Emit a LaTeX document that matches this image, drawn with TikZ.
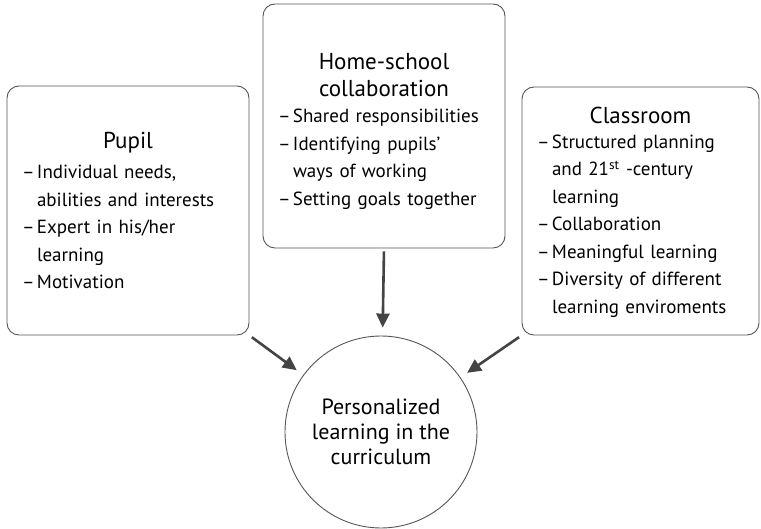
\documentclass[tikz,border=0pt]{standalone}
\usepackage{fontspec}
\setmainfont{PT Sans}
\usetikzlibrary{arrows.meta}

\definecolor{boxline}{HTML}{555555}
\definecolor{arrowgray}{HTML}{444444}
\newcommand{\li}[1]{\par\hangindent=15pt\hangafter=1\noindent\makebox[15pt][l]{–}#1\par}
\newcommand{\btitle}[2][3pt]{{\centering\fontsize{23}{27}\selectfont #2\par}\vspace{#1}}

\begin{document}
\begin{tikzpicture}[x=1pt,y=-1pt, block/.style={rectangle,draw=boxline,line width=0.9pt,rounded corners=12pt,inner xsep=15pt,inner ysep=0pt,text width=212pt,align=left,font=\fontsize{19}{27.5}\selectfont}, goal/.style={circle,draw=boxline,line width=0.9pt,minimum size=192pt,inner sep=0pt,align=center,font=\fontsize{22}{25}\selectfont}, arrow/.style={-{Triangle[length=14pt,width=13pt]},arrowgray,line width=2.6pt,shorten >=8pt,shorten <=3pt}]
\useasboundingbox (0,0) rectangle (761,529);
\node (b1) [block,minimum height=249pt,minimum width=242pt] at (128,210.5) {\btitle{Pupil}\li{Individual needs,\newline abilities and interests}\li{Expert in his/her\newline learning}\li{Motivation}};
\node (b2) [block,minimum height=244pt,minimum width=242pt] at (384,126) {\btitle[-1pt]{\rule{0pt}{27pt}Home-school\\collaboration}\li{Shared responsibilities}\li{Identifying pupils’\newline ways of working}\li{Setting goals together}};
\node (b3) [block,minimum height=248pt,minimum width=237pt,text width=207pt] at (640.5,211) {\btitle[-3pt]{\rule{0pt}{19pt}Classroom}\li{Structured planning\newline and 21\textsuperscript{st} -century\newline learning}\li{Collaboration}\li{Meaningful learning}\li{Diversity of different\newline learning enviroments}};
\node (b4) [goal] at (381,432) {Personalized\\learning in the\\curriculum};
  % arrows into the centre
  \draw [arrow] (b1.south east) -- (b4);
  \draw [arrow] (b2.south) -- (b4);
  \draw [arrow] (b3.south west) -- (b4);
\end{tikzpicture}
\end{document}
